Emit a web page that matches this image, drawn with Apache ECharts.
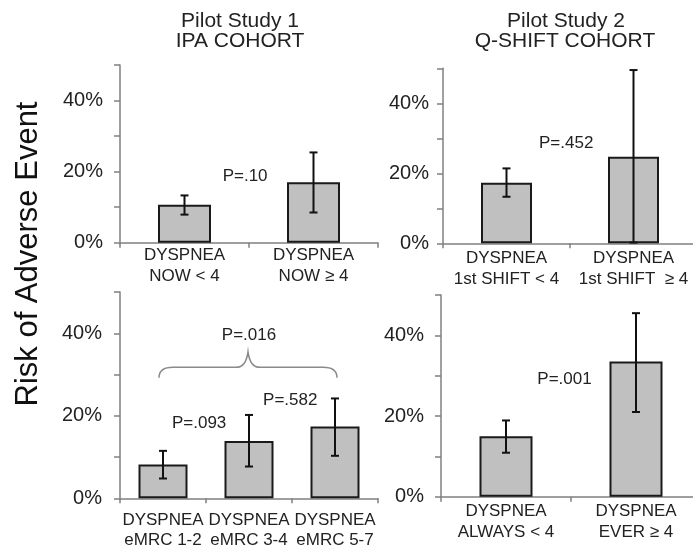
<!DOCTYPE html>
<html>
<head>
<meta charset="utf-8">
<script src="https://cdn.jsdelivr.net/npm/echarts@6/dist/echarts.min.js"></script>
<style>html,body{margin:0;padding:0;background:#fff}#c{width:693px;height:548px}</style>
</head>
<body>
<div id="c"></div>
<script>
// ---- data (percent) ----
const tlCats = ['DYSPNEA\nNOW < 4', 'DYSPNEA\nNOW ≥ 4'];
const tlVals = [10.7, 17.0];
const tlLow  = [7.9, 8.5];
const tlHigh = [13.3, 25.4];

const trCats = ['DYSPNEA\n1st SHIFT < 4', 'DYSPNEA\n1st SHIFT  ≥ 4'];
const trVals = [17.3, 24.7];
const trLow  = [13.3, 0.2];
const trHigh = [21.4, 49.5];

const blCats = ['DYSPNEA\neMRC 1-2', 'DYSPNEA\neMRC 3-4', 'DYSPNEA\neMRC 5-7'];
const blVals = [8.2, 13.9, 17.4];
const blLow  = [4.8, 7.7, 10.3];
const blHigh = [11.5, 20.2, 24.2];

const brCats = ['DYSPNEA\nALWAYS < 4', 'DYSPNEA\nEVER ≥ 4'];
const brVals = [15.0, 33.5];
const brLow  = [10.9, 21.0];
const brHigh = [18.9, 45.5];

const tlNotes = [{ text: 'P=.10', at: 0.47, value: 18.8 }];
const trNotes = [{ text: 'P=.452', at: 0.47, value: 28.7 }];
const blNotes = [{ text: 'P=.093', at: 0.42, value: 18.2 },
                 { text: 'P=.582', at: 1.48, value: 23.7 },
                 { text: 'P=.016', at: 1.0, value: 39.6 }];
const brNotes = [{ text: 'P=.001', at: 0.45, value: 29.0 }];
const blBrace = [{ from: 0, to: 2, value: 29.2 }];

const yTicks = [0, 20, 40];
const yMax = 50, yStep = 10;

// ---- styling ----
const FONT = "'Liberation Sans', Arial, Helvetica, sans-serif";
const TXT = '#222';
const AXIS = '#808080';

const panels = [
  { cats: tlCats, vals: tlVals, low: tlLow, high: tlHigh, notes: tlNotes,
    grid: { left: 120, top: 65, width: 258, height: 177.7 }, barWidth: 53, xMargin: 2, xLH: 21, yMargin: 17 },
  { cats: trCats, vals: trVals, low: trLow, high: trHigh, notes: trNotes,
    grid: { left: 443, top: 68.3, width: 254, height: 175 }, barWidth: 51, xMargin: 4, xLH: 21.5, yMargin: 14 },
  { cats: blCats, vals: blVals, low: blLow, high: blHigh, notes: blNotes, brace: blBrace,
    grid: { left: 120, top: 292, width: 258, height: 206.3 }, barWidth: 49, xMargin: 12.5, xLH: 20, yMargin: 18 },
  { cats: brCats, vals: brVals, low: brLow, high: brHigh, notes: brNotes,
    grid: { left: 441, top: 295, width: 260, height: 201.7 }, barWidth: 53, xMargin: 4, xLH: 21, yMargin: 17 }
];

const grids = [], xAxes = [], yAxes = [], series = [];
panels.forEach((p, k) => {
  grids.push(Object.assign({ outerBoundsMode: 'none', containLabel: false }, p.grid));
  xAxes.push({
    type: 'category', gridIndex: k, data: p.cats,
    axisLine: { lineStyle: { color: AXIS, width: 1.5 } },
    axisTick: { show: true, length: 5, lineStyle: { color: AXIS, width: 1.5 } },
    axisLabel: { fontFamily: FONT, fontSize: 17, color: TXT, lineHeight: p.xLH, margin: p.xMargin, interval: 0 },
    splitLine: { show: false }
  });
  yAxes.push({
    type: 'value', gridIndex: k, min: 0, max: yMax, interval: yStep,
    axisLine: { show: true, lineStyle: { color: AXIS, width: 1.5 } },
    axisTick: { show: true, length: 6, lineStyle: { color: AXIS, width: 1.5 } },
    axisLabel: { fontFamily: FONT, fontSize: 20, color: TXT, margin: p.yMargin,
      formatter: v => (yTicks.indexOf(v) >= 0 ? v + '%' : '') },
    splitLine: { show: false }
  });
  series.push({
    type: 'bar', xAxisIndex: k, yAxisIndex: k, data: p.vals, barWidth: p.barWidth,
    itemStyle: { color: '#c0c0c0', borderColor: '#1a1a1a', borderWidth: 2 },
    silent: true, animation: false, z: 2
  });
  series.push({
    type: 'custom', xAxisIndex: k, yAxisIndex: k,
    data: p.vals.map((v, i) => [i, p.low[i], p.high[i]]),
    encode: { x: 0, y: [1, 2] },
    renderItem: (params, api) => {
      const i = api.value(0);
      const a = api.coord([i, api.value(1)]);
      const b = api.coord([i, api.value(2)]);
      const cw = 4;
      const st = { stroke: '#111', lineWidth: 2 };
      return { type: 'group', children: [
        { type: 'line', shape: { x1: a[0], y1: a[1], x2: b[0], y2: b[1] }, style: st },
        { type: 'line', shape: { x1: a[0] - cw, y1: a[1], x2: a[0] + cw, y2: a[1] }, style: st },
        { type: 'line', shape: { x1: b[0] - cw, y1: b[1], x2: b[0] + cw, y2: b[1] }, style: st }
      ] };
    },
    silent: true, animation: false, clip: false, z: 5
  });
  series.push({
    type: 'custom', xAxisIndex: k, yAxisIndex: k,
    data: p.notes.map(n => [Math.floor(n.at), n.value]),
    encode: { x: 0, y: 1 },
    renderItem: (params, api) => {
      const n = p.notes[params.dataIndex];
      const i0 = Math.floor(n.at);
      const c0 = api.coord([i0, n.value]);
      const c1 = api.coord([i0 + 1, n.value]);
      const x = c0[0] + (c1[0] - c0[0]) * (n.at - i0);
      return { type: 'text', x: x, y: c0[1],
        style: { text: n.text, fill: TXT, font: '17px ' + FONT, align: 'center', verticalAlign: 'middle' } };
    },
    silent: true, animation: false, clip: false, z: 6
  });
  if (p.brace) {
    series.push({
      type: 'custom', xAxisIndex: k, yAxisIndex: k,
      data: p.brace.map(b => [b.from, b.value]),
      encode: { x: 0, y: 1 },
      renderItem: (params, api) => {
        const b = p.brace[params.dataIndex];
        const L = api.coord([b.from, b.value]);
        const R = api.coord([b.to, b.value]);
        const xl = L[0] - 4, xr = R[0] + 2, ye = L[1];
        const yh = ye - 10.5, yp = ye - 26, xc = (xl + xr) / 2;
        const d = `M ${xl} ${ye} Q ${xl} ${yh} ${xl + 14} ${yh} L ${xc - 12} ${yh} Q ${xc - 2} ${yh} ${xc} ${yp}` +
                  ` Q ${xc + 2} ${yh} ${xc + 12} ${yh} L ${xr - 14} ${yh} Q ${xr} ${yh} ${xr} ${ye}`;
        return { type: 'path', shape: { pathData: d },
          style: { stroke: '#8a8a8a', lineWidth: 1.5, fill: null } };
      },
      silent: true, animation: false, clip: false, z: 6
    });
  }
});

const chart = echarts.init(document.getElementById('c'), null, { renderer: 'canvas' });
chart.setOption({
  animation: false,
  backgroundColor: '#fff',
  grid: grids, xAxis: xAxes, yAxis: yAxes, series: series,
  graphic: [
    { type: 'text', x: 240, y: 21.7, style: { text: 'Pilot Study 1', font: '21px ' + FONT, fill: TXT, align: 'center', verticalAlign: 'middle' } },
    { type: 'text', x: 240, y: 41.7, style: { text: 'IPA COHORT', font: '21px ' + FONT, fill: TXT, align: 'center', verticalAlign: 'middle' } },
    { type: 'text', x: 566, y: 21.7, style: { text: 'Pilot Study 2', font: '21px ' + FONT, fill: TXT, align: 'center', verticalAlign: 'middle' } },
    { type: 'text', x: 565, y: 41.7, style: { text: 'Q-SHIFT COHORT', font: '21px ' + FONT, fill: TXT, align: 'center', verticalAlign: 'middle' } },
    { type: 'text', x: 28, y: 254, rotation: Math.PI / 2,
      style: { text: 'Risk of Adverse Event', font: '31px ' + FONT, fill: '#111', align: 'center', verticalAlign: 'middle' } }
  ]
});
</script>
</body>
</html>
